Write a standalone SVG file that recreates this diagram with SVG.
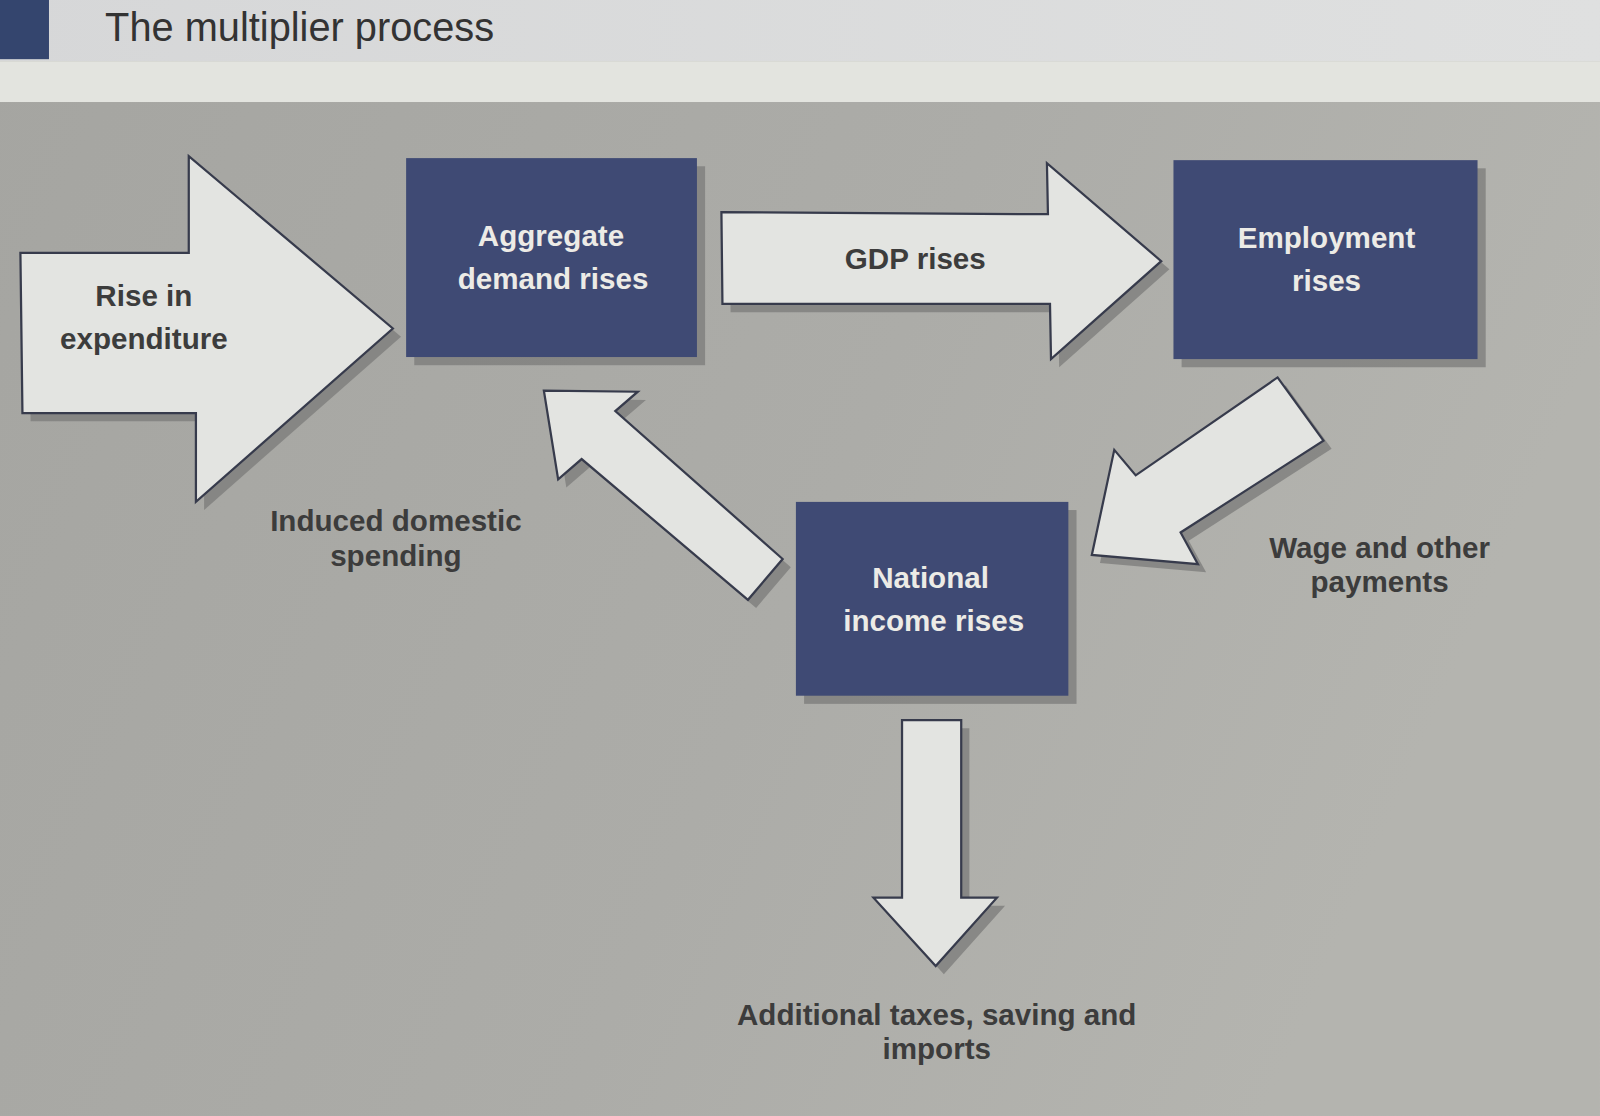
<svg xmlns="http://www.w3.org/2000/svg" xmlns:xlink="http://www.w3.org/1999/xlink" width="1600" height="1116" viewBox="0 0 1600 1116">
<defs>
<linearGradient id="bg" x1="0" y1="0" x2="1" y2="0.3">
<stop offset="0" stop-color="#a5a5a1"/>
<stop offset="0.6" stop-color="#acaca8"/>
<stop offset="1" stop-color="#b4b4af"/>
</linearGradient>
<linearGradient id="topband" x1="0" y1="0" x2="1" y2="0">
<stop offset="0" stop-color="#d6d7d8"/>
<stop offset="1" stop-color="#dfe0e0"/>
</linearGradient>
<style>
.box{fill:#3f4a74;}
.shadow{fill:#7b7b79;opacity:0.75;}
.arrow{fill:#e3e4e1;stroke:#373b4c;stroke-width:2.2;stroke-linejoin:miter;}
.boxtext{font-family:"Liberation Sans",Arial,sans-serif;font-weight:bold;font-size:29px;fill:#ecebe6;text-anchor:middle;}
.label{font-family:"Liberation Sans",Arial,sans-serif;font-weight:bold;font-size:29px;fill:#3c3c3c;text-anchor:middle;}
.title{font-family:"Liberation Sans",Arial,sans-serif;font-size:39px;fill:#333;}
</style>
</defs>
<g transform="scale(1.0204,1.0201)">
<rect x="0" y="0" width="1568" height="1094" fill="url(#bg)"/>
<rect x="0" y="0" width="1568" height="60" fill="url(#topband)"/>
<rect x="0" y="60" width="1568" height="40" fill="#e3e4df"/>
<rect x="0" y="0" width="48" height="58" fill="#34456e"/>
<text class="title" x="103" y="40">The multiplier process</text>

<g id="connectors">
<g id="arrow-rise">
<polygon class="shadow" transform="translate(8,8)" points="20,248 185,248 185,153 385,322 192,492 192,405 22,405"/>
<polygon class="arrow" points="20,248 185,248 185,153 385,322 192,492 192,405 22,405"/>
<text class="label" x="141" y="300">Rise in</text>
<text class="label" x="141" y="342">expenditure</text>
</g>
<g id="arrow-gdp">
<polygon class="shadow" transform="translate(8,8)" points="707,208 1027,210 1026,160 1138,256 1030,352 1029,298 708,298"/>
<polygon class="arrow" points="707,208 1027,210 1026,160 1138,256 1030,352 1029,298 708,298"/>
<text class="label" x="897" y="264">GDP rises</text>
</g>
<g id="arrow-wage">
<polygon class="shadow" transform="translate(8,8)" points="1252,370 1297,432 1157,522 1174,553 1070,544 1092,441 1113,466"/>
<polygon class="arrow" points="1252,370 1297,432 1157,522 1174,553 1070,544 1092,441 1113,466"/>
</g>
<g id="arrow-induced">
<polygon class="shadow" transform="translate(8,8)" points="533,383 625,384 603,403 767,548 733,588 570,450 547,470"/>
<polygon class="arrow" points="533,383 625,384 603,403 767,548 733,588 570,450 547,470"/>
</g>
<g id="arrow-leak">
<polygon class="shadow" transform="translate(8,8)" points="884,706 942,706 942,880 977,880 917,947 856,880 884,880"/>
<polygon class="arrow" points="884,706 942,706 942,880 977,880 917,947 856,880 884,880"/>
</g>
</g>

<g id="node-aggregate">
<rect class="shadow" x="406" y="163" width="285" height="195"/>
<rect class="box" x="398" y="155" width="285" height="195"/>
<text class="boxtext" x="540" y="241">Aggregate</text>
<text class="boxtext" x="542" y="283">demand rises</text>
</g>
<g id="node-employment">
<rect class="shadow" x="1158" y="165" width="298" height="195"/>
<rect class="box" x="1150" y="157" width="298" height="195"/>
<text class="boxtext" x="1300" y="243">Employment</text>
<text class="boxtext" x="1300" y="285">rises</text>
</g>
<g id="node-national">
<rect class="shadow" x="788" y="500" width="267" height="190"/>
<rect class="box" x="780" y="492" width="267" height="190"/>
<text class="boxtext" x="912" y="576">National</text>
<text class="boxtext" x="915" y="619">income rises</text>
</g>

<g id="labels">
<text class="label" x="388" y="521">Induced domestic</text>
<text class="label" x="388" y="555">spending</text>
<text class="label" x="1352" y="547">Wage and other</text>
<text class="label" x="1352" y="580">payments</text>
<text class="label" x="918" y="1005">Additional taxes, saving and</text>
<text class="label" x="918" y="1038">imports</text>
</g>
</g>
</svg>
